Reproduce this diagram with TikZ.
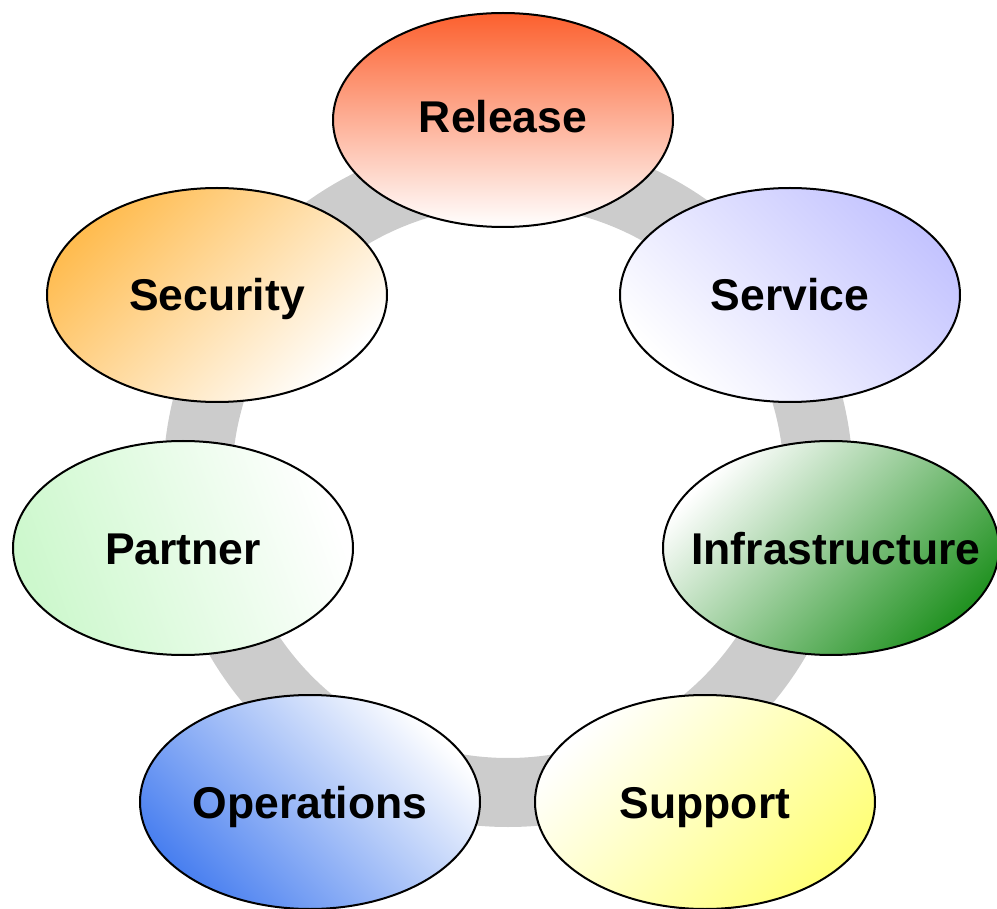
\documentclass[tikz,border=0pt]{standalone}
\usepackage{fontspec}
\setmainfont{Liberation Sans}
\usetikzlibrary{shapes.geometric}
\definecolor{ringgray}{RGB}{204,204,204}
\definecolor{relc}{RGB}{252,96,46}
\definecolor{serc}{RGB}{196,196,255}
\definecolor{infc}{RGB}{34,146,34}
\definecolor{parc}{RGB}{205,248,205}
\definecolor{secc}{RGB}{255,188,80}
\definecolor{opc}{RGB}{74,128,240}
\definecolor{supc}{RGB}{255,255,120}
\begin{document}
\begin{tikzpicture}[x=1pt,y=-1pt,
  blob/.style={ellipse, draw=black, line width=2pt, minimum width=340pt, minimum height=214pt, inner sep=0pt},
  lbl/.style={font=\fontsize{44.5}{53}\selectfont\bfseries, text height=32pt, text depth=0pt, inner sep=0pt}]
\useasboundingbox (0,0) rectangle (997,909);
\node[circle, draw=ringgray, line width=69pt, minimum size=621pt, inner sep=0pt] (ring) at (508,482) {};
\node[blob, top color=relc, bottom color=white] (rel) at (503,120) {};
\node[blob, top color=serc, bottom color=white, shading angle=-45] (ser) at (790,295) {};
\node[blob, minimum width=336pt, top color=white, bottom color=infc, shading angle=45] (inf) at (831,548) {};
\node[blob, left color=parc, right color=white, shading angle=110] (par) at (183,548) {};
\node[blob, top color=secc, bottom color=white, shading angle=45] (sec) at (217,295) {};
\node[blob, top color=white, bottom color=opc, shading angle=-45] (ops) at (310,802) {};
\node[blob, top color=white, bottom color=supc, shading angle=45] (sup) at (705,802) {};
\node[lbl] (relt) at ([yshift=3pt]rel.center) {Release};
\node[lbl] (sert) at (ser) {Service};
\node[lbl] (inft) at ([xshift=5pt]inf.center) {Infrastructure};
\node[lbl] (part) at (par) {Partner};
\node[lbl] (sect) at (sec) {Security};
\node[lbl] (opst) at (ops) {Operations};
\node[lbl] (supt) at (sup) {Support};
\end{tikzpicture}
\end{document}
